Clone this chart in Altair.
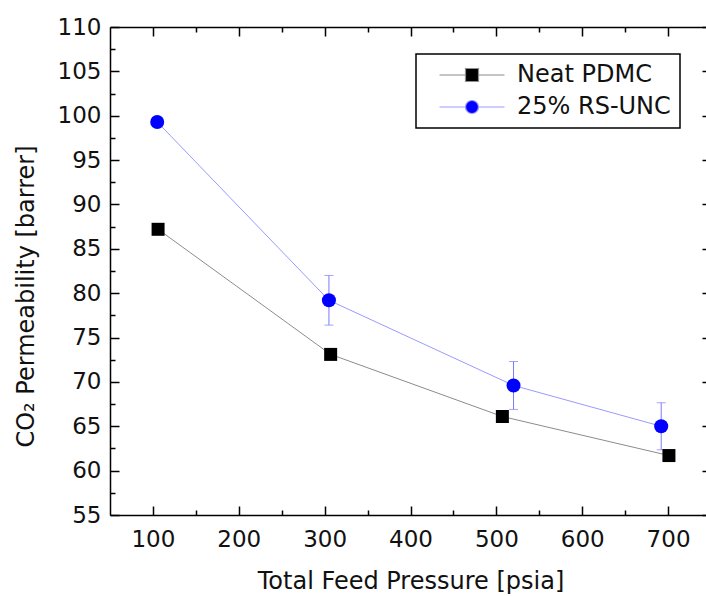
import altair as alt
import pandas as pd

# ---- data ----
series_names = ["Neat PDMC", "25% RS-UNC"]

neat_pressure = [106, 307, 507, 701]
neat_perm = [87.2, 73.1, 66.1, 61.7]

rs_pressure = [105, 305, 520, 692]
rs_perm = [99.3, 79.2, 69.6, 65.0]
rs_err = [0.5, 2.8, 2.7, 2.65]

x_major = [100, 200, 300, 400, 500, 600, 700]
x_minor = [150, 250, 350, 450, 550, 650]
y_major = [55, 60, 65, 70, 75, 80, 85, 90, 95, 100, 105, 110]
y_minor = [57.5, 62.5, 67.5, 72.5, 77.5, 82.5, 87.5, 92.5, 97.5, 102.5, 107.5]

FONT = "DejaVu Sans"
BLACK = "#000000"
TEXT = "#111111"
GRAY_LINE = "#8c8c8c"
BLUE = "#0000ff"
BLUE_LINE = "#9a9aff"
BLUE_ERR = "#7a7aff"

neat_df = pd.DataFrame({"x": neat_pressure, "y": neat_perm, "series": series_names[0]})
rs_df = pd.DataFrame({
    "x": rs_pressure,
    "y": rs_perm,
    "lo": [v - e for v, e in zip(rs_perm, rs_err)],
    "hi": [v + e for v, e in zip(rs_perm, rs_err)],
    "series": series_names[1],
})
all_df = pd.concat([neat_df, rs_df[["x", "y", "series"]]], ignore_index=True)

xs = alt.Scale(domain=[50, 750], nice=False, zero=False)
ys = alt.Scale(domain=[55, 110], nice=False, zero=False)

main_x_axis = alt.Axis(
    values=x_major, ticks=False, tickSize=0, domain=True, domainColor=BLACK, domainWidth=1.5,
    grid=False, labelPadding=13, title="Total Feed Pressure [psia]",
    titleY=73, titleBaseline="alphabetic",
)
main_y_axis = alt.Axis(
    values=y_major, ticks=False, tickSize=0, domain=True, domainColor=BLACK, domainWidth=1.5,
    grid=False, labelPadding=9, title="CO\u2082 Permeability [barrer]",
    titleX=-77, titleY=269, titleBaseline="alphabetic", titleAlign="center", titleAngle=270,
)

neat_line = alt.Chart(neat_df).mark_line(color=GRAY_LINE, strokeWidth=1).encode(
    x=alt.X("x:Q", scale=xs, axis=main_x_axis),
    y=alt.Y("y:Q", scale=ys, axis=main_y_axis),
)
rs_line = alt.Chart(rs_df).mark_line(color=BLUE_LINE, strokeWidth=1).encode(
    x=alt.X("x:Q", scale=xs, axis=None),
    y=alt.Y("y:Q", scale=ys, axis=None),
)
err_rule = alt.Chart(rs_df).mark_rule(color=BLUE_ERR, strokeWidth=1).encode(
    x=alt.X("x:Q", scale=xs, axis=None),
    y=alt.Y("lo:Q", scale=ys, axis=None),
    y2="hi:Q",
)
cap_lo = alt.Chart(rs_df).mark_tick(color=BLUE_ERR, orient="horizontal", size=9, thickness=1).encode(
    x=alt.X("x:Q", scale=xs, axis=None),
    y=alt.Y("lo:Q", scale=ys, axis=None),
)
cap_hi = alt.Chart(rs_df).mark_tick(color=BLUE_ERR, orient="horizontal", size=9, thickness=1).encode(
    x=alt.X("x:Q", scale=xs, axis=None),
    y=alt.Y("hi:Q", scale=ys, axis=None),
)
neat_pts = alt.Chart(neat_df).mark_square(color=BLACK, size=169, opacity=1).encode(
    x=alt.X("x:Q", scale=xs, axis=None),
    y=alt.Y("y:Q", scale=ys, axis=None),
)
rs_pts = alt.Chart(rs_df).mark_circle(color=BLUE, size=196, opacity=1).encode(
    x=alt.X("x:Q", scale=xs, axis=None),
    y=alt.Y("y:Q", scale=ys, axis=None),
)

# legend-only layer (no marks drawn), symbols = line stub + marker
sq_path = "M-5,0H-1M1,0H5M-1,-1H1V1H-1Z"
ci_path = "M-5,0H-1M1,0H5M-1,0A1,1,0,1,0,1,0A1,1,0,1,0,-1,0Z"
leg = alt.Legend(
    title=None, orient="none", legendX=306, legendY=27, padding=9, rowPadding=8,
    symbolSize=169, symbolStrokeWidth=1.2, symbolOffset=35, labelOffset=33,
    labelFont=FONT, labelFontSize=24, labelColor=TEXT,
    labelExpr="datum.label + '  '", strokeColor=BLACK,
)
legend_layer = alt.Chart(all_df).transform_filter("false").mark_point(
    filled=True, size=169, opacity=1, strokeWidth=1.2
).encode(
    x=alt.X("x:Q", scale=xs, axis=None),
    y=alt.Y("y:Q", scale=ys, axis=None),
    fill=alt.Fill("series:N", scale=alt.Scale(domain=series_names, range=[BLACK, BLUE]), legend=leg),
    stroke=alt.Stroke("series:N", scale=alt.Scale(domain=series_names, range=[GRAY_LINE, BLUE_LINE]), legend=leg),
    shape=alt.Shape("series:N", scale=alt.Scale(domain=series_names, range=[sq_path, ci_path]), legend=leg),
)


def tick_layer(xvals, yvals, xorient, yorient, size, domain):
    # inward ticks: negative tick length given as an expression
    ax = alt.Axis(
        orient=xorient, values=xvals, labels=False, domain=domain, domainColor=BLACK, domainWidth=1.5,
        grid=False, title=None, ticks=True, tickSize={"expr": str(-size)}, tickColor=BLACK, tickWidth=1.5,
    )
    ay = alt.Axis(
        orient=yorient, values=yvals, labels=False, domain=False,
        grid=False, title=None, ticks=True, tickSize={"expr": str(-size)}, tickColor=BLACK, tickWidth=1.5,
    )
    return alt.Chart(all_df).transform_filter("false").mark_point(opacity=0).encode(
        x=alt.X("x:Q", scale=xs, axis=ax),
        y=alt.Y("y:Q", scale=ys, axis=ay),
    )


ticks_a = tick_layer(x_major, y_major, "bottom", "left", 9, False)
ticks_b = tick_layer(x_minor, y_minor, "bottom", "left", 5, False)
ticks_c = tick_layer(x_major, y_major, "top", "right", 9, True)
ticks_d = tick_layer(x_minor, y_minor, "top", "right", 5, False)

chart = alt.layer(
    neat_line, rs_line, err_rule, cap_lo, cap_hi, neat_pts, rs_pts, legend_layer,
    ticks_a, ticks_b, ticks_c, ticks_d,
).resolve_axis(
    x="independent", y="independent"
).properties(
    width=601, height=488,
    autosize=alt.AutoSizeParams(type="none"),
    padding={"left": 110, "top": 27, "right": -5, "bottom": 81},
    background="white",
).configure_view(
    stroke=None
).configure_axis(
    labelFont=FONT, labelFontSize=23, labelColor=TEXT,
    titleFont=FONT, titleFontSize=24, titleColor=TEXT, titleFontWeight="normal",
).configure_legend(
    strokeWidth=1.5,
)

chart.save("out.html", embed_options={"renderer": "svg", "actions": False})
